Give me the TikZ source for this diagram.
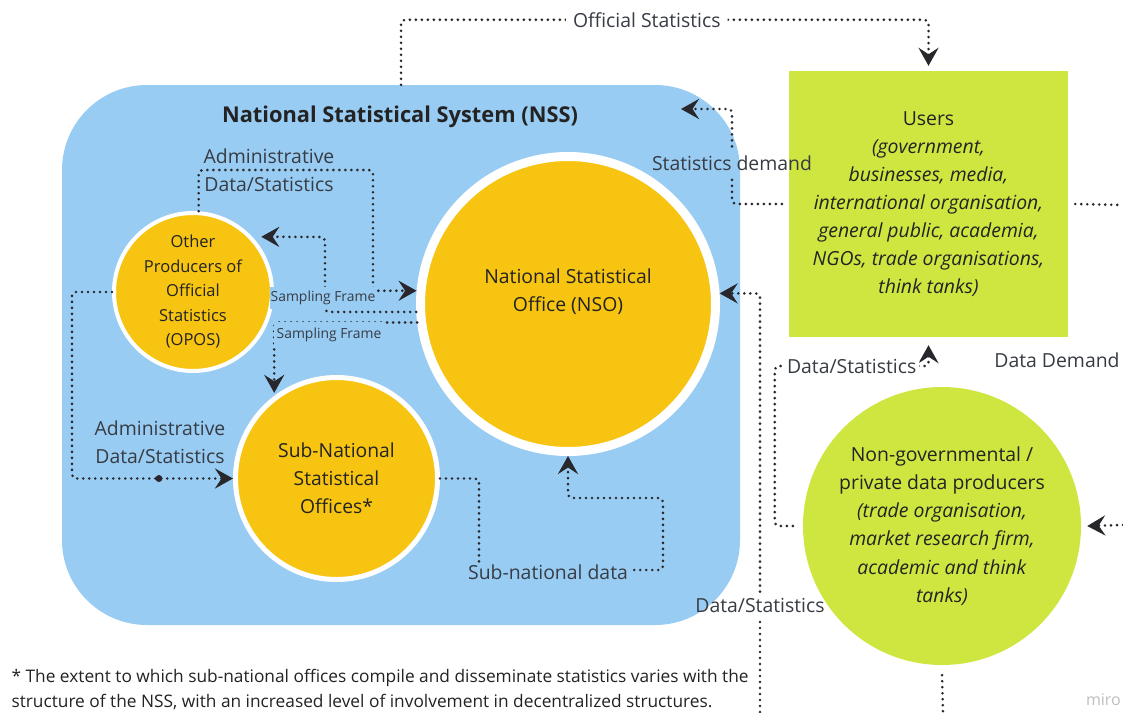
\documentclass[tikz,border=0pt]{standalone}
\usepackage{fontspec}
\setmainfont{Open Sans}
\usetikzlibrary{arrows.meta}

\definecolor{nssblue}{RGB}{153,204,243}
\definecolor{nsoyellow}{RGB}{247,196,18}
\definecolor{usergreen}{RGB}{208,230,64}
\definecolor{conncol}{RGB}{40,40,44}
\definecolor{inktext}{RGB}{35,35,35}
\definecolor{labeltext}{RGB}{55,60,68}

\tikzset{
  conn/.style={draw=conncol, line width=2.9pt, line cap=round,
    dash pattern=on 0pt off 6pt, rounded corners=4pt},
  arrowed/.style={-{Stealth[length=18pt,width=20pt,inset=6.5pt]}},
  lbl/.style={text=labeltext, inner sep=2pt, font=\fontsize{19.4}{22}\selectfont},
  smalllbl/.style={text=labeltext, fill=nssblue, font=\fontsize{13.9}{15}\selectfont},
  yellowdisc/.style={circle, fill=nsoyellow, draw=white, inner sep=0pt,
    align=center, text=inktext},
}

\begin{document}
\begin{tikzpicture}[x=1pt, y=-1pt]
\useasboundingbox (0,0) rectangle (1123,712);
\fill[white] (0,0) rectangle (1123,712);

% national statistical system frame
\node[fill=nssblue, rounded corners=85pt, minimum width=678pt,
      minimum height=540pt, inner sep=0pt] (nss) at (401,355) {};
\node[font=\bfseries\fontsize{21.8}{25}\selectfont, text=inktext] (nsstitle)
      at (400,117) {National Statistical System (NSS)};

% member offices
\node[yellowdisc, line width=9pt, minimum size=295pt] (nso) at (568,304) {};
\node[font=\fontsize{19.4}{28}\selectfont, align=center, text=inktext] (nsotext)
      at (568,292) {National Statistical\\Office (NSO)};
\node[yellowdisc, line width=4pt, minimum size=158pt,
      font=\fontsize{16.5}{24.5}\selectfont] (opos) at (193,292)
      {Other\\Producers of\\Official\\Statistics\\(OPOS)};
\node[yellowdisc, line width=5pt, minimum size=202pt,
      font=\fontsize{19.3}{28}\selectfont] (sub) at (336.5,478.5)
      {Sub-National\\Statistical\\Offices*};

% outside actors
\node[fill=usergreen, minimum width=279pt, minimum height=266pt, inner sep=0pt,
      align=center, text=inktext, font=\fontsize{19.4}{28}\selectfont] (users)
      at (928.5,204)
      {Users\\\textit{(government,}\\\textit{businesses, media,}\\
       \textit{international organisation,}\\\textit{general public, academia,}\\
       \textit{NGOs, trade organisations,}\\\textit{think tanks)}};
\node[circle, fill=usergreen, minimum size=278pt, inner sep=0pt, align=center,
      text=inktext, font=\fontsize{19.4}{28.2}\selectfont] (ngo) at (942,526)
      {Non-governmental /\\private data producers\\\textit{(trade organisation,}\\
       \textit{market research firm,}\\\textit{academic and think}\\\textit{tanks)}};

% free ends of connectors leaving the sheet
\coordinate (sdend) at (681,109);
\coordinate (ddright) at (1123,205);
\coordinate (ddin) at (1123,525);
\coordinate (ngobot) at (943,712);
\coordinate (dsbot) at (760,712);
\coordinate (dsjoin) at (928.5,366);

% official statistics to users
\draw[conn, arrowed] (nss.north) -- ++(0,-65)
  -| node[lbl, fill=white, pos=0.233, inner xsep=7pt] (oslab) {Official Statistics}
  ([yshift=5pt]users.north);

% statistics demand back to the system
\node[lbl, inner ysep=9pt] (sdlab) at (732,163) {Statistics demand};
\draw[conn] ([xshift=-7pt]users.west) -| (sdlab.south);
\draw[conn, arrowed] (sdlab.north) |- (sdend);

% data demand loop on the right
\draw[conn] ([xshift=7pt]users.east) -- (ddright);
\draw[conn, arrowed] (ddin) -- ([xshift=6pt]ngo.east);
\draw[conn] ([yshift=-10pt]ngo.south) -- (ngobot);
\node[lbl] (ddlab) at (1057,360) {Data Demand};

% private producers feed users
\draw[conn, arrowed] ([xshift=-10pt]ngo.west) -- ++(-18,0)
  |- node[lbl, fill=white, pos=0.75, inner xsep=3pt] (dslab2) {Data/Statistics}
  (dsjoin) -- ([yshift=-8pt]users.south);

% data from outside into the NSO
\node[lbl, inner ysep=6pt] (dslab) at (760,605) {Data/Statistics};
\draw[conn] (dsbot) -- (dslab.south);
\draw[conn, arrowed] (dslab.north) |- (nso.4.5);

% administrative data from OPOS to NSO
\draw[conn, arrowed] (opos.86) |- (373,170) |- (nso.175.5);
\node[lbl, align=center, font=\fontsize{19.4}{28}\selectfont] (admtop)
      at (269,170) {Administrative\\Data/Statistics};

% sampling frames from the NSO
\draw[conn, arrowed, shorten >=9pt] (nso.183) -| (325,237) -- (opos.43);
\node[smalllbl, inner xsep=1pt, inner ysep=4pt] (sf1) at (323,298) {Sampling Frame};
\draw[conn, arrowed, shorten >=3pt] (nso.187.6) -| (sub.127);
\node[smalllbl, inner xsep=3pt, inner ysep=6pt] (sf2) at (329,335) {Sampling Frame};

% administrative data from OPOS to sub-national offices
\draw[conn, arrowed] (opos.west) -- ++(-40,0)
  |- node[pos=0.77, circle, fill=conncol, inner sep=0pt, minimum size=7pt] (admdot) {}
  (sub.west);
\node[lbl, align=center, font=\fontsize{19.4}{28}\selectfont] (admleft)
      at (160,442) {Administrative\\Data/Statistics};

% sub-national data up to the NSO
\draw[conn, arrowed] (sub.east) -| (479,570) -- (663,570) -- (663,498) -| (nso.south);
\node[lbl, fill=nssblue, inner xsep=4pt] (sndlab) at (548,572) {Sub-national data};

% footnote
\node[anchor=west, align=left, text=inktext,
      font=\fontsize{17.3}{25}\selectfont] (note) at (8,689.5)
  {* The extent to which sub-national offices compile and disseminate statistics varies with the\\
   structure of the NSS, with an increased level of involvement in decentralized structures.};
\node[anchor=east, text=black!25, font=\fontsize{16}{18}\selectfont, inner sep=1pt] (brand)
      at (1122,700) {miro};
\end{tikzpicture}
\end{document}
